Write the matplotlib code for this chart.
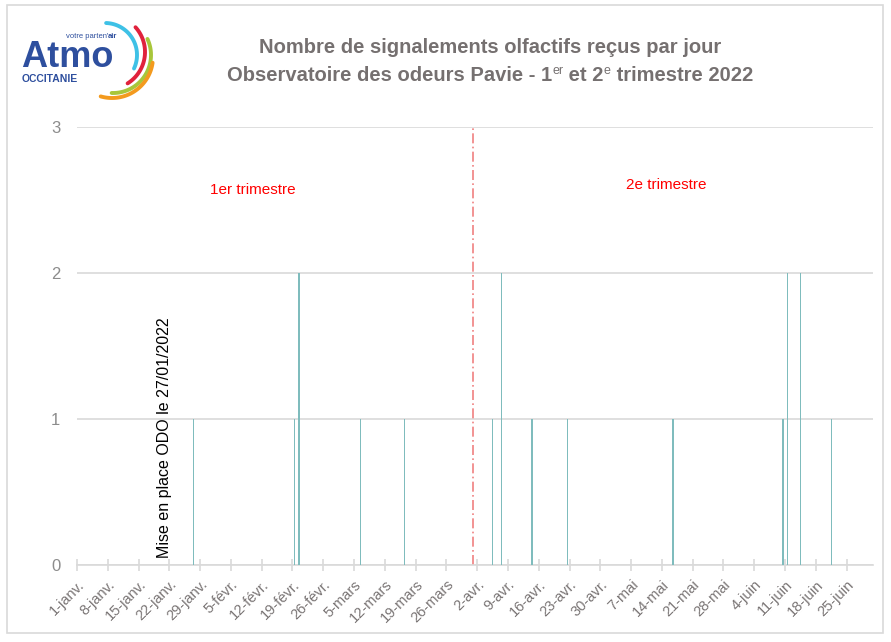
import numpy as np
import matplotlib
matplotlib.use("Agg")
import matplotlib.pyplot as plt
import matplotlib.dates as mdates
from matplotlib.patches import Rectangle

# ---- data ----
event_dates = ['2022-01-27', '2022-02-19', '2022-02-20', '2022-03-06', '2022-03-16',
               '2022-04-05', '2022-04-07', '2022-04-14', '2022-04-22', '2022-05-16',
               '2022-06-10', '2022-06-11', '2022-06-14', '2022-06-21']
event_counts = [1, 1, 2, 1, 1, 1, 2, 1, 1, 1, 1, 2, 2, 1]
tick_labels = ['1-janv.', '8-janv.', '15-janv.', '22-janv.', '29-janv.', '5-févr.',
               '12-févr.', '19-févr.', '26-févr.', '5-mars', '12-mars', '19-mars',
               '26-mars', '2-avr.', '9-avr.', '16-avr.', '23-avr.', '30-avr.', '7-mai',
               '14-mai', '21-mai', '28-mai', '4-juin', '11-juin', '18-juin', '25-juin']
start_date = '2022-01-01'
end_date = '2022-07-01'
trimester_split = '2022-04-01'
launch_label = 'Mise en place ODO le 27/01/2022'
title_line1 = 'Nombre de signalements olfactifs reçus par jour'
title_line2 = [('Observatoire des odeurs Pavie - 1', False), ('er', True),
               (' et 2', False), ('e', True), (' trimestre 2022', False)]

plt.rcParams['font.family'] = ['Liberation Sans', 'DejaVu Sans']

W, H = 891, 642
fig = plt.figure(figsize=(W / 100, H / 100), dpi=100)

# background overlay in pixel coordinates
bg = fig.add_axes([0, 0, 1, 1], zorder=0)
bg.set_xlim(0, W)
bg.set_ylim(H, 0)
bg.axis('off')
bg.add_patch(Rectangle((7, 5), 876, 628, fill=False, ec='#d9d9d9', lw=1.2))

# logo
def arc(cx, cy, r, a1, a2, color):
    a = np.radians(np.linspace(a1, a2, 60))
    bg.plot(cx + r * np.cos(a), cy - r * np.sin(a), color=color, lw=2.8,
            solid_capstyle='round')

arc(105, 55, 32, 88, -25, '#3ec1e6')
arc(108, 52, 37, 42, -58, '#e0223c')
arc(113, 55, 38, 25, -92, '#a8c63a')
arc(112, 57, 41, -8, -106, '#f39a1e')
bg.text(21, 67, 'Atmo', fontsize=26, fontweight='bold', color='#2e4f9e',
        ha='left', va='baseline')
bg.text(22, 82, 'OCCITANIE', fontsize=7.5, fontweight='bold', color='#2e4f9e',
        ha='left', va='baseline')
bg.text(108, 38, "votre parten'", fontsize=5.5, color='#2e4f9e', ha='right', va='baseline')
bg.text(108, 38, "air", fontsize=5.5, fontweight='bold', color='#2e4f9e',
        ha='left', va='baseline')

# titles
title_color = '#757070'
tfs = 14.5
bg.text(490, 53, title_line1, fontsize=tfs, fontweight='bold', color=title_color,
        ha='center', va='baseline')

renderer = fig.canvas.get_renderer()
pieces = []
for txt, sup in title_line2:
    t = bg.text(0, 0, txt, fontsize=tfs * (0.62 if sup else 1.0),
                fontweight='normal' if sup else 'bold', color=title_color,
                ha='left', va='baseline')
    w = t.get_window_extent(renderer).width
    pieces.append((t, w, sup))
total = sum(p[1] for p in pieces)
xpix = 490 - total / 2
for t, w, sup in pieces:
    t.set_position((xpix, 81 - (7 if sup else 0)))
    xpix += w

# main axes
x0, x1, ytop, ybot = 77, 873, 127, 565
ax = fig.add_axes([x0 / W, 1 - ybot / H, (x1 - x0) / W, (ybot - ytop) / H], zorder=1)
ax.patch.set_alpha(0)

d0 = mdates.datestr2num(start_date)
d1 = mdates.datestr2num(end_date)
xs = np.array([mdates.datestr2num(d) for d in event_dates]) + 0.5
ax.bar(xs, event_counts, width=0.32, color='#7fbcbd', zorder=3)

ax.set_xlim(d0, d1)
ax.set_ylim(0, 3)
ax.set_yticks([0, 1, 2, 3])
ax.yaxis.grid(True, color='#d9d9d9', lw=1.2, zorder=0)
for s in ['top', 'right', 'left']:
    ax.spines[s].set_visible(False)
ax.spines['bottom'].set_color('#d9d9d9')
ax.spines['bottom'].set_linewidth(1.2)
ax.tick_params(axis='y', length=0, pad=12, labelsize=12, labelcolor='#8c8c8c')

ticks = d0 + 7 * np.arange(len(tick_labels))
ax.set_xticks(ticks)
ax.set_xticklabels(tick_labels, rotation=45, ha='right', rotation_mode='anchor',
                   fontsize=10.5, color='#7a7575')
ax.tick_params(axis='x', direction='inout', length=8, width=1.2, color='#d9d9d9', pad=5)

# trimester split
xs_split = mdates.datestr2num(trimester_split)
ax.plot([xs_split, xs_split], [0, 3], color='#f08080', lw=1.2, ls=(0, (6, 2, 1, 2)),
        zorder=2)

ax.text(mdates.datestr2num('2022-02-10'), 2.57, '1er trimestre', color='#ff0000',
        fontsize=11, ha='center', va='center')
ax.text(mdates.datestr2num('2022-05-15'), 2.6, '2e trimestre', color='#ff0000',
        fontsize=11, ha='center', va='center')
ax.text(mdates.datestr2num('2022-01-20') + 0.8, 0.05, launch_label, rotation=90,
        color='black', fontsize=11.5, ha='center', va='bottom')

fig.savefig('out.png', dpi=100)
